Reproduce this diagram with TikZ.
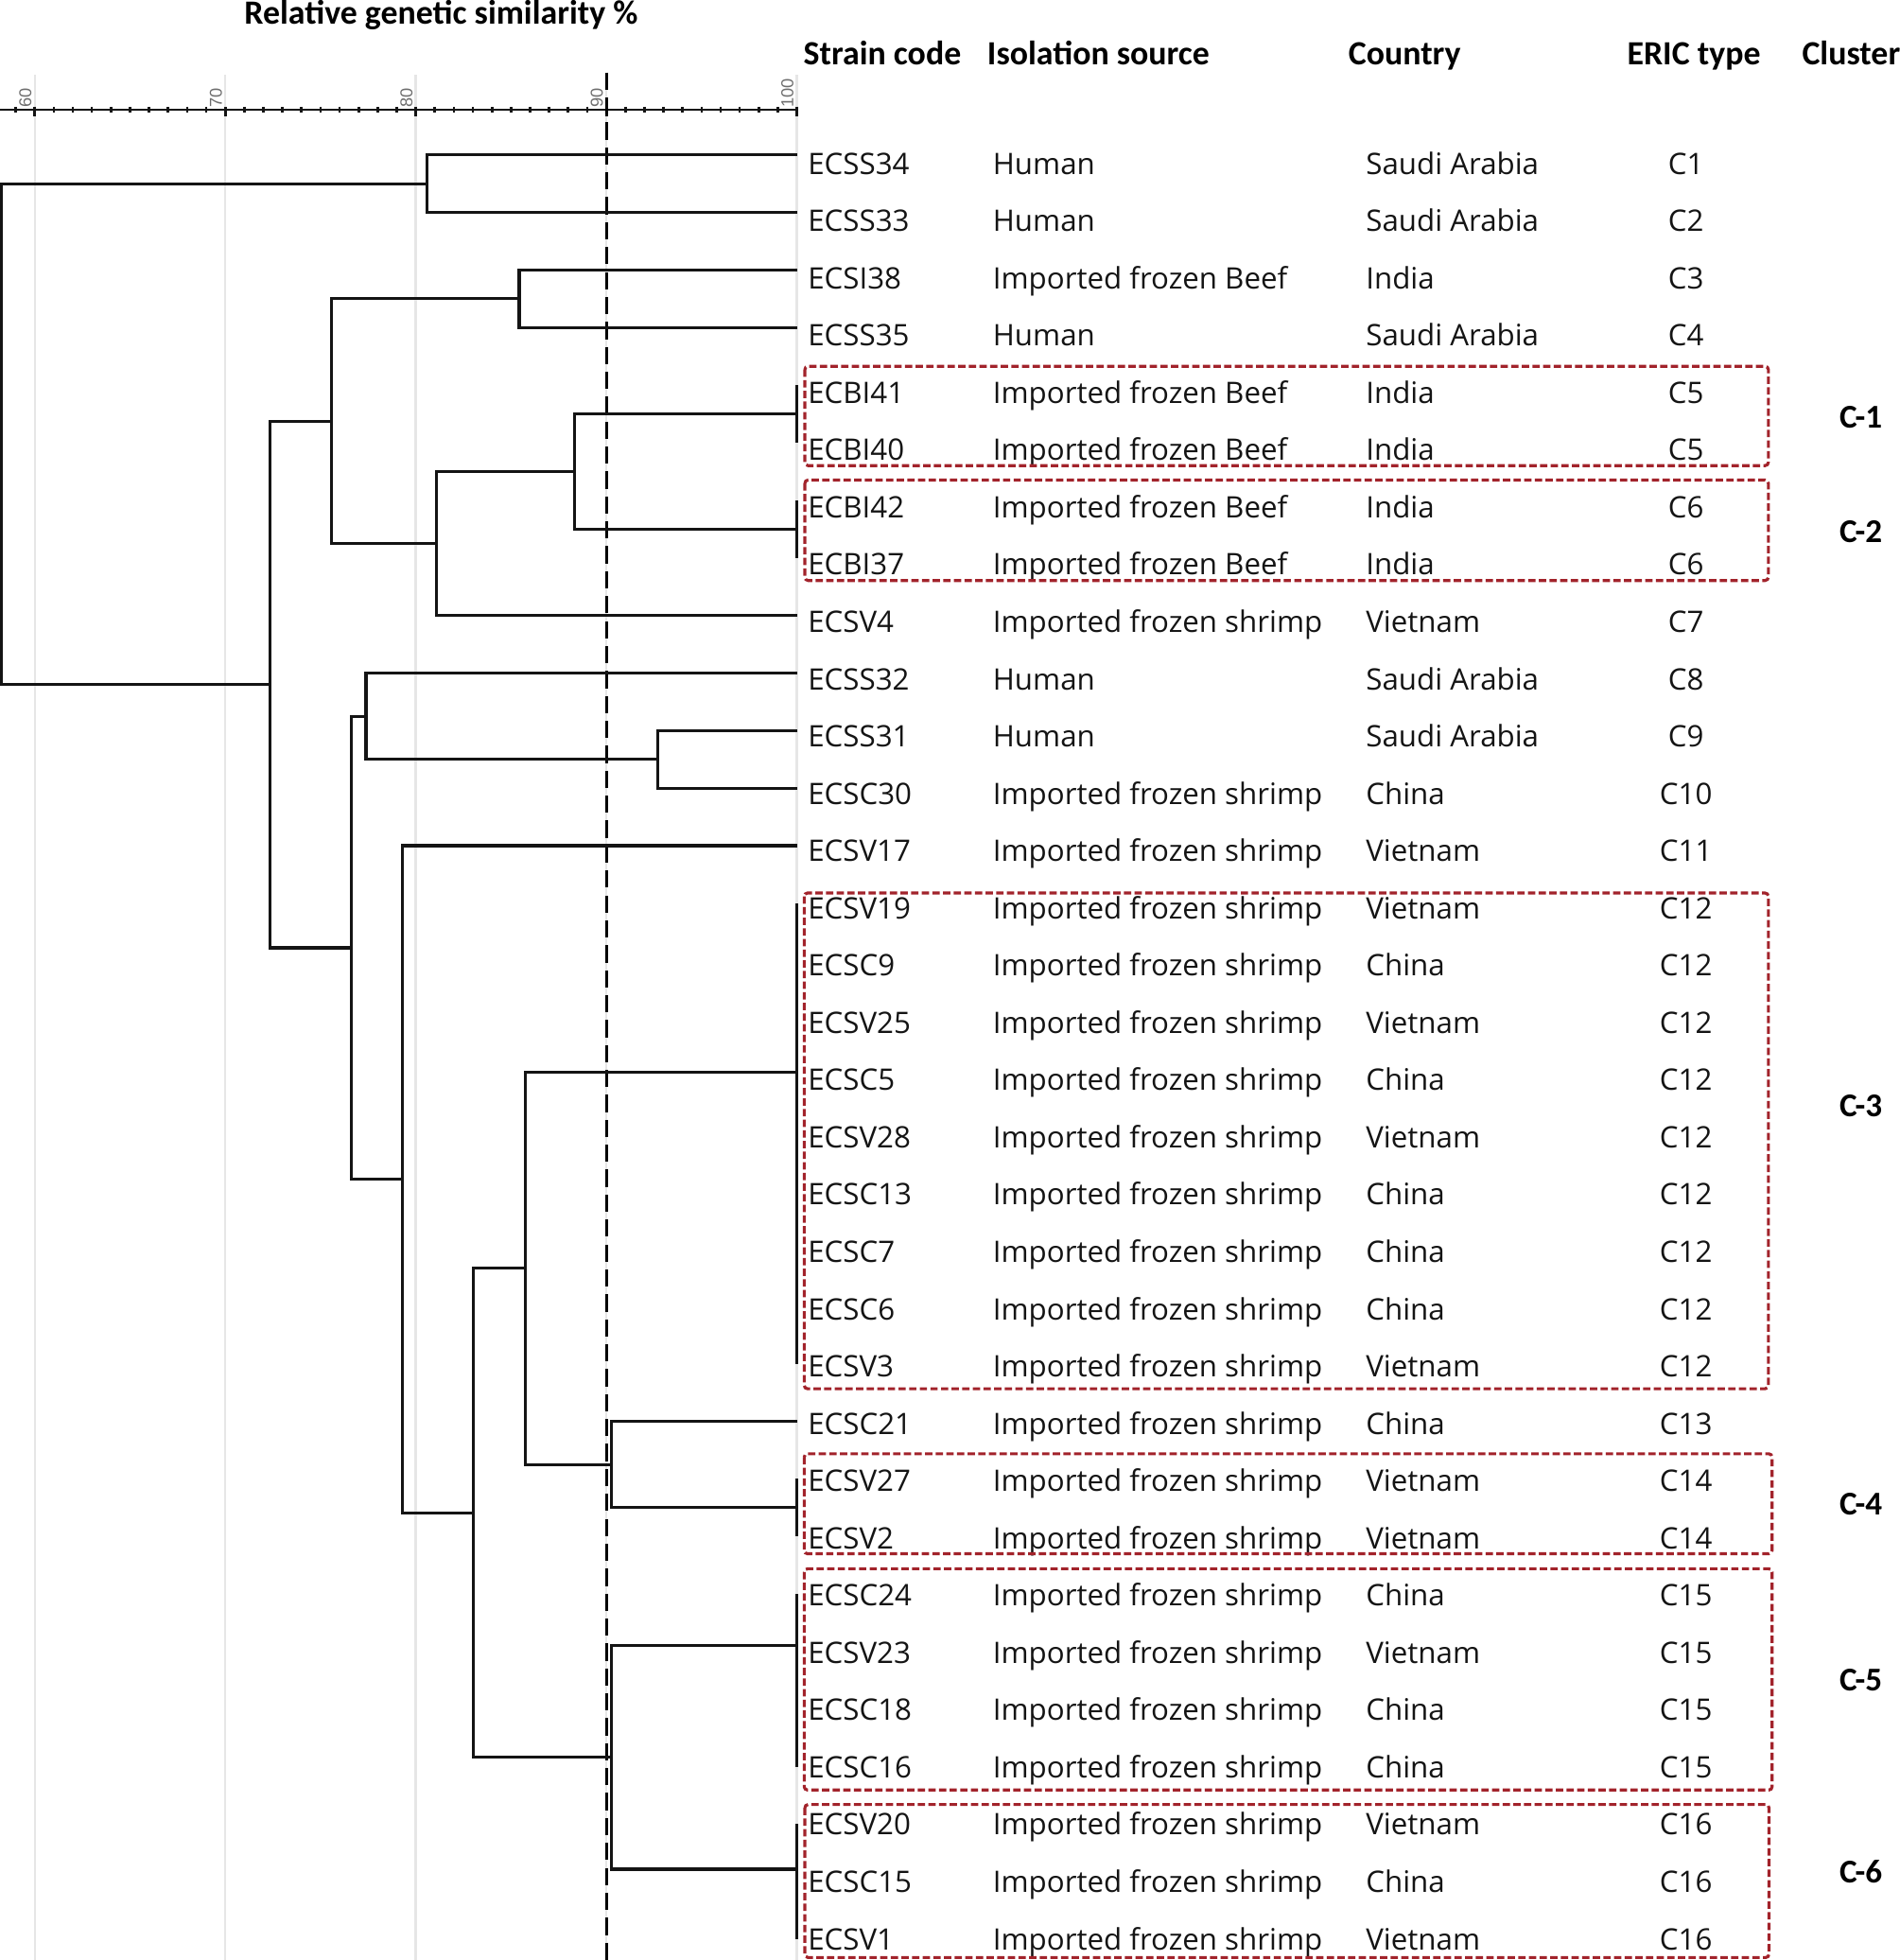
\documentclass[tikz,border=0pt]{standalone}
\usepackage{fontspec}
\setmainfont{Open Sans}
\newfontfamily\headfont{Carlito}
\newfontfamily\ticknumfont{Liberation Sans}
\usepackage{xcolor}
\definecolor{treeink}{HTML}{141414}
\definecolor{gridgray}{HTML}{E6E6E6}
\definecolor{ticklabel}{HTML}{6E6E6E}
\definecolor{boxred}{HTML}{A2232B}

\begin{document}
\begin{tikzpicture}[
  x=0.01321cm,
  y=-0.01321cm,
  every node/.style={inner sep=0pt, outer sep=0pt},
  rowtext/.style={font=\fontsize{8.9}{10}\selectfont, text=treeink, anchor=base west},
  erictext/.style={font=\fontsize{8.9}{10}\selectfont, text=treeink, anchor=base},
  headtext/.style={font=\headfont\bfseries\fontsize{10.2}{12}\selectfont, anchor=base west},
  clustertext/.style={font=\headfont\bfseries\fontsize{10}{12}\selectfont},
  ticktext/.style={font=\ticknumfont\fontsize{5.2}{6}\selectfont, text=ticklabel, rotate=90, anchor=south west},
  branch/.style={treeink, line width=0.9pt},
  clusterbox/.style={boxred, line width=0.9pt, dash pattern=on 2.2pt off 1pt, rounded corners=1pt},
  cutline/.style={black, line width=0.85pt, dash pattern=on 5.2pt off 2.3pt},
  gridline/.style={gridgray, line width=0.7pt}
]
  \useasboundingbox (0,0) rectangle (1520,1568);

  \foreach \v in {60,70,80,90,100}
    \draw[gridline] ({27.8+15.245*(\v-60)},60) -- ++(0,1508);

  \coordinate (axisL) at (0,87.8);
  \coordinate (axisR) at (637.6,87.8);
  \draw[treeink, line width=0.7pt] (axisL) -- (axisR);
  \foreach \v in {59,...,100}
    \draw[treeink, line width=0.75pt] ({27.8+15.245*(\v-60)},85.4) -- ++(0,4.8);
  \foreach \v in {60,70,80,90,100} {
    \draw[treeink, line width=0.8pt] ({27.8+15.245*(\v-60)},85.5) -- ++(0,7.5);
    \node[ticktext] (tick\v) at ({25.2+15.245*(\v-60)},86) {\v};
  }

  \coordinate (cutTop) at (485.2,58);
  \coordinate (cutBot) at (485.2,1568);
  \draw[cutline] (cutTop) -- (cutBot);

  \foreach \i in {0,...,31}
    \coordinate (l\i) at (637.6,{123.9+46.05*\i});

  \coordinate (root)    at (1.2,347.3);
  \coordinate (n3433)   at (341.4,147.0);
  \coordinate (nMain)   at (216,547.6);
  \coordinate (nUpper)  at (265,336.9);
  \coordinate (n3835)   at (415.5,239.0);
  \coordinate (nBeefV4) at (349.5,434.8);
  \coordinate (nBeef)   at (460,377.2);
  \coordinate (nC1)     at (637.6,331.2);
  \coordinate (nC2)     at (637.6,423.3);
  \coordinate (nLower)  at (281,758.2);
  \coordinate (nHuman)  at (292.8,573.0);
  \coordinate (n3130)   at (526.6,607.5);
  \coordinate (nV17)    at (321.8,943.4);
  \coordinate (nShrimp) at (378.7,1210.3);
  \coordinate (nMid)    at (420.3,1014.7);
  \coordinate (nC3)     at (637.6,857.8);
  \coordinate (nSC21)   at (489.2,1171.6);
  \coordinate (nC4)     at (637.6,1206.1);
  \coordinate (nC56)    at (489.2,1405.9);
  \coordinate (nC5)     at (637.6,1316.5);
  \coordinate (nC6)     at (637.6,1495.3);

  \foreach \p/\c in {root/n3433, root/nMain, n3433/l0, n3433/l1,
      nMain/nUpper, nMain/nLower, nUpper/n3835, nUpper/nBeefV4,
      n3835/l2, n3835/l3, nBeefV4/nBeef, nBeefV4/l8, nBeef/nC1, nBeef/nC2,
      nC1/l4, nC1/l5, nC2/l6, nC2/l7,
      nLower/nHuman, nLower/nV17, nHuman/l9, nHuman/n3130, n3130/l10, n3130/l11,
      nV17/l12, nV17/nShrimp, nShrimp/nMid, nShrimp/nC56,
      nMid/nC3, nMid/nSC21, nC3/l13, nC3/l21, nSC21/l22, nSC21/nC4, nC4/l23, nC4/l24,
      nC56/nC5, nC56/nC6, nC5/l25, nC5/l28, nC6/l29, nC6/l31}
    \draw[branch] (\p) |- (\c);

  \node[headtext, anchor=base] (title) at (353,19.5) {Relative genetic similarity \%};
  \node[headtext] (hcode) at (643,51.5) {Strain code};
  \node[headtext] (hsrc)  at (790,51.5) {Isolation source};
  \node[headtext] (hctry) at (1079,51.5) {Country};
  \node[headtext] (heric) at (1302,51.5) {ERIC type};
  \node[headtext] (hclu)  at (1442,51.5) {Cluster};

  \foreach [count=\i from 0] \code/\src/\ctry/\eric in {
      ECSS34/Human/Saudi Arabia/C1, ECSS33/Human/Saudi Arabia/C2,
      ECSI38/Imported frozen Beef/India/C3, ECSS35/Human/Saudi Arabia/C4,
      ECBI41/Imported frozen Beef/India/C5, ECBI40/Imported frozen Beef/India/C5,
      ECBI42/Imported frozen Beef/India/C6, ECBI37/Imported frozen Beef/India/C6,
      ECSV4/Imported frozen shrimp/Vietnam/C7, ECSS32/Human/Saudi Arabia/C8,
      ECSS31/Human/Saudi Arabia/C9, ECSC30/Imported frozen shrimp/China/C10,
      ECSV17/Imported frozen shrimp/Vietnam/C11, ECSV19/Imported frozen shrimp/Vietnam/C12,
      ECSC9/Imported frozen shrimp/China/C12, ECSV25/Imported frozen shrimp/Vietnam/C12,
      ECSC5/Imported frozen shrimp/China/C12, ECSV28/Imported frozen shrimp/Vietnam/C12,
      ECSC13/Imported frozen shrimp/China/C12, ECSC7/Imported frozen shrimp/China/C12,
      ECSC6/Imported frozen shrimp/China/C12, ECSV3/Imported frozen shrimp/Vietnam/C12,
      ECSC21/Imported frozen shrimp/China/C13, ECSV27/Imported frozen shrimp/Vietnam/C14,
      ECSV2/Imported frozen shrimp/Vietnam/C14, ECSC24/Imported frozen shrimp/China/C15,
      ECSV23/Imported frozen shrimp/Vietnam/C15, ECSC18/Imported frozen shrimp/China/C15,
      ECSC16/Imported frozen shrimp/China/C15, ECSV20/Imported frozen shrimp/Vietnam/C16,
      ECSC15/Imported frozen shrimp/China/C16, ECSV1/Imported frozen shrimp/Vietnam/C16} {
    \pgfmathsetmacro{\yb}{139.3+45.82*\i}
    \node[rowtext]  (code\i) at (646.5,\yb) {\code};
    \node[rowtext]  (src\i)  at (794.5,\yb) {\src};
    \node[rowtext]  (ctry\i) at (1093,\yb)  {\ctry};
    \node[erictext] (eric\i) at (1349,\yb)  {\eric};
  }

  \foreach \xa/\ya/\xb/\yb in {644/293/1415/372.5, 644/384/1415/464.4,
      643.5/714.4/1415/1111, 643.5/1163/1418/1243,
      643.5/1255/1418/1432, 644/1443.6/1415.5/1566}
    \draw[clusterbox] (\xa,\ya) rectangle (\xb,\yb);

  \node[clustertext] (clu1) at (1489,334)  {C-1};
  \node[clustertext] (clu2) at (1489,425)  {C-2};
  \node[clustertext] (clu3) at (1489,885)  {C-3};
  \node[clustertext] (clu4) at (1489,1203) {C-4};
  \node[clustertext] (clu5) at (1489,1344) {C-5};
  \node[clustertext] (clu6) at (1489,1497) {C-6};
\end{tikzpicture}
\end{document}
